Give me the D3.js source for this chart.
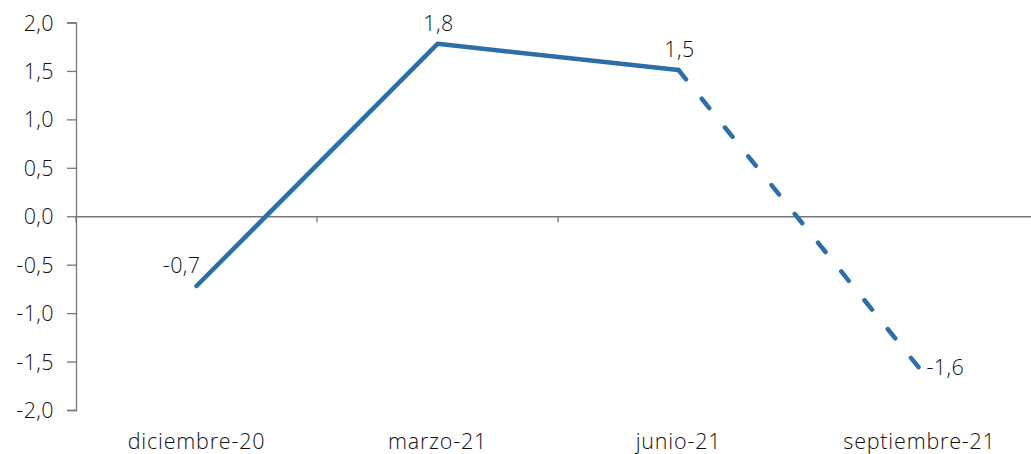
<!DOCTYPE html>
<html><head><meta charset="utf-8">
<script src="https://cdn.jsdelivr.net/npm/d3@7"></script>
<style>
body{margin:0;background:#fff;}
text{font-family:"Open Sans",sans-serif;fill:#111;font-weight:300;}
</style></head>
<body>
<svg id="c" width="1031" height="454"></svg>
<script>
const categories = ["diciembre-20","marzo-21","junio-21","septiembre-21"];
const values = [-0.72, 1.78, 1.51, -1.57];
const valueLabels = ["-0,7","1,8","1,5","-1,6"];
const yTicks = [-2,-1.5,-1,-0.5,0,0.5,1,1.5,2];

const svg = d3.select("#c");
const x = d3.scaleBand().domain(categories).range([76,1040]).padding(0);
const y = d3.scaleLinear().domain([-2,2]).range([410,22.5]);
const fmt = d => d3.format(".1f")(d).replace(".",",").replace("−","-");
const FS = 21.5;

// y axis
const ya = svg.append("g").attr("transform","translate(76,0)")
  .call(d3.axisLeft(y).tickValues(yTicks).tickSize(9).tickPadding(13).tickFormat(fmt));
ya.select(".domain").attr("stroke","#777").attr("stroke-width",1.3);
ya.selectAll(".tick line").attr("stroke","#777").attr("stroke-width",1.3);
ya.selectAll("text").attr("font-size",FS).attr("font-family","'Open Sans',sans-serif")
  .attr("font-weight",300).attr("fill","#111").attr("dy","0.35em").attr("letter-spacing",0.4);

// x axis at zero
const xa = svg.append("g").attr("transform",`translate(0,${y(0)})`)
  .call(d3.axisBottom(x).tickSize(0).tickFormat(""));
xa.select(".domain").attr("stroke","#777").attr("stroke-width",1.3);
xa.selectAll(".tick").remove();
// category boundary ticks
const bounds = categories.map(c => x(c));
svg.append("g").selectAll("line").data(bounds).join("line")
  .attr("x1",d=>d).attr("x2",d=>d).attr("y1",y(0)).attr("y2",y(0)+6)
  .attr("stroke","#777").attr("stroke-width",1.3);

// category labels
svg.append("g").selectAll("text").data(categories).join("text")
  .attr("x",d=>x(d)+x.bandwidth()/2).attr("y",448.5)
  .attr("text-anchor","middle").attr("font-size",FS).attr("letter-spacing",0.8).text(d=>d);

const pts = categories.map((c,i)=>({x:x(c)+x.bandwidth()/2,y:y(values[i])}));
const line = d3.line().x(d=>d.x).y(d=>d.y);
svg.append("path").attr("d",line(pts.slice(0,3))).attr("fill","none")
  .attr("stroke","#2b6ea9").attr("stroke-width",4.5).attr("stroke-linejoin","round").attr("stroke-linecap","round");
svg.append("path").attr("d",line(pts.slice(2,4))).attr("fill","none")
  .attr("stroke","#2b6ea9").attr("stroke-width",4.5).attr("stroke-linecap","round")
  .attr("stroke-dasharray","12 25");

// value labels
const lblPos = [
  {dx:4, dy:-13, anchor:"end"},
  {dx:1, dy:-13, anchor:"middle"},
  {dx:1, dy:-13, anchor:"middle"},
  {dx:7, dy:1, anchor:"start"}
];
svg.append("g").selectAll("text").data(pts).join("text")
  .attr("x",(d,i)=>d.x+lblPos[i].dx).attr("y",(d,i)=>d.y+lblPos[i].dy)
  .attr("text-anchor",(d,i)=>lblPos[i].anchor)
  .attr("dominant-baseline",(d,i)=>i===3?"middle":"auto")
  .attr("letter-spacing",0.4)
  .attr("font-size",FS).text((d,i)=>valueLabels[i]);
</script>
</body></html>
